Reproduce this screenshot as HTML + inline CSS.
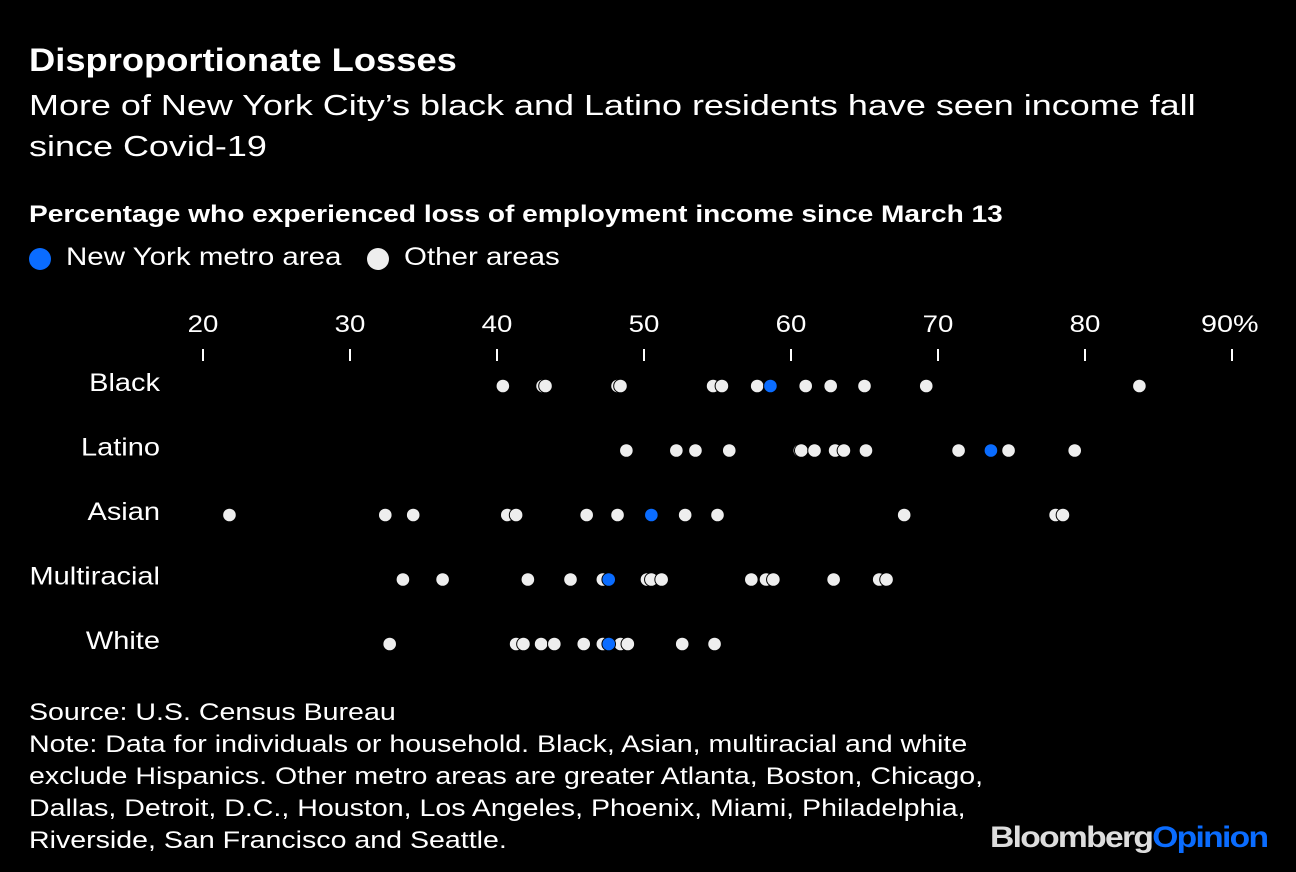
<!DOCTYPE html>
<html><head><meta charset="utf-8"><style>
body{margin:0;background:#000;width:1296px;height:872px;overflow:hidden;font-family:"Liberation Sans",Arial,sans-serif;color:#fff}
.t{position:absolute;left:29px;white-space:nowrap;transform-origin:0 0}
.dot{position:absolute;top:248px;width:22px;height:22px;border-radius:50%}
.lt{position:absolute;top:243px;font-size:25px;white-space:nowrap;transform:scaleX(1.18);transform-origin:0 0}
</style></head><body>
<div class="t" style="top:42px;font-size:32px;font-weight:bold;transform:scaleX(1.135)">Disproportionate Losses</div>
<div class="t" style="top:86px;font-size:29px;line-height:41px;transform:scaleX(1.24)">More of New York City’s black and Latino residents have seen income fall<br>since Covid-19</div>
<div class="t" style="top:201px;font-size:24px;font-weight:bold;transform:scaleX(1.17)">Percentage who experienced loss of employment income since March 13</div>
<div>
<div class="dot" style="left:29px;background:#0a6cff"></div><div class="lt" style="left:66px">New York metro area</div></div>
<div>
<div class="dot" style="left:367px;background:#eee"></div><div class="lt" style="left:404px">Other areas</div></div>
<svg id="c" width="1296" height="872" style="position:absolute;left:0;top:0"></svg>
<div class="t" style="top:697px;font-size:24px;line-height:32px;transform:scaleX(1.19)">Source: U.S. Census Bureau<br>Note: Data for individuals or household. Black, Asian, multiracial and white<br>exclude Hispanics. Other metro areas are greater Atlanta, Boston, Chicago,<br>Dallas, Detroit, D.C., Houston, Los Angeles, Phoenix, Miami, Philadelphia,<br>Riverside, San Francisco and Seattle.</div>
<div class="t" style="left:990px;top:821px;font-size:30px;font-weight:bold;letter-spacing:-1.5px;transform:scaleX(1.12)"><span style="color:#ddd">Bloomberg</span><span style="color:#0a6cff">Opinion</span></div>
<script>
const categories=["Black","Latino","Asian","Multiracial","White"];
const otherValues=[
[40.4,43.1,43.3,48.2,48.4,54.7,55.3,57.7,61.0,62.7,65.0,69.2,83.7],
[48.8,52.2,53.5,55.8,60.6,60.7,61.6,63.0,63.6,65.1,71.4,74.8,79.3],
[21.8,32.4,34.3,40.7,41.3,46.1,48.2,52.8,55.0,67.7,78.0,78.5],
[33.6,36.3,42.1,45.0,47.2,50.2,50.5,51.2,57.3,58.3,58.8,62.9,66.0,66.5],
[32.7,41.3,41.8,43.0,43.9,45.9,47.2,48.4,48.9,52.6,54.8]];
const nyValues=[58.6,73.6,50.5,47.6,47.6];
const ticks=[20,30,40,50,60,70,80,90];
const NS="http://www.w3.org/2000/svg",svg=document.getElementById('c');
const x=v=>203+(v-20)*14.7, y=i=>386+i*64.5;
function mk(t,a){const e=document.createElementNS(NS,t);for(const k in a)e.setAttribute(k,a[k]);svg.appendChild(e);return e;}
ticks.forEach((t,i)=>{
const l=mk('line',{x1:x(t),x2:x(t),y1:349,y2:361,stroke:'#fff','stroke-width':2});


const last=i==ticks.length-1;
const tx=mk('text',{x:0,y:0,transform:'translate('+x(t)+',332) scale(1.15,1)','text-anchor':'middle','font-size':24,fill:'#fff'});
if(last){tx.setAttribute('text-anchor','start');tx.setAttribute('transform','translate('+(x(t)-31)+',332) scale(1.2,1)');}
tx.textContent=t+(last?'%':'');


});
categories.forEach((c,i)=>{
const tx=mk('text',{x:0,y:0,transform:'translate(160,'+(y(i)+5)+') scale(1.16,1)','text-anchor':'end','font-size':25,fill:'#fff'});
tx.textContent=c;


otherValues[i].forEach(v=>{
const d=mk('circle',{cx:x(v),cy:y(i),r:6.8,fill:'#eee',stroke:'#000','stroke-width':1});


});
const n=mk('circle',{cx:x(nyValues[i]),cy:y(i),r:6.8,fill:'#0a6cff',stroke:'#000','stroke-width':1});


});
</script>
</body></html>
